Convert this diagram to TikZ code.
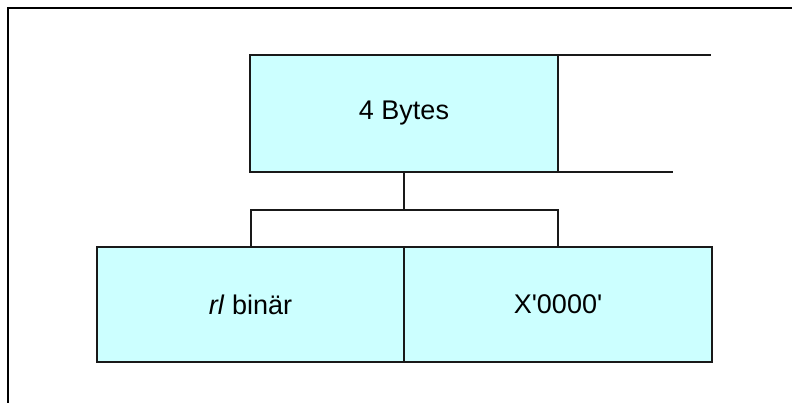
\documentclass[tikz,border=0pt]{standalone}
\usepackage{fontspec}
\setmainfont{Liberation Sans}
\usetikzlibrary{positioning, calc}
\definecolor{fieldfill}{HTML}{CCFFFF}
\tikzset{%
	field/.style={draw=black!90, line width=2pt, rectangle, fill=fieldfill, inner sep=0mm, outer sep=0pt,%
		minimum width=308pt, minimum height=117pt, font=\fontsize{27}{31}\selectfont},
	low/.style={minimum height=115pt},
	connector/.style={line width=2pt, black!90},
	frame/.style={line width=2.5pt, black}
}
\begin{document}
\begin{tikzpicture}[x=1pt, y=-1pt]
	\useasboundingbox (0,0) rectangle (792,403);
	%frame
	\coordinate (fbl) at (8,403);
	\coordinate (ftl) at (8,8);
	\coordinate (ftr) at (792,8);
	\draw[frame] (fbl) -- (ftl) -- (ftr);

	%word
	\node[field] (word) at (404,113.5) {4 Bytes};
	\coordinate (topend) at (711,55);
	\coordinate (botend) at (673,172);
	\draw[connector] (word.north east) -- (topend);
	\draw[connector] (word.south east) -- (botend);

	%fields
	\node[field, low, minimum width=307pt] (len) at (250.5,304.5) {\textit{rl} binär};
	\node[field, low, right=0pt of len] (zero) {X\textquotesingle 0000\textquotesingle};

	%connection
	\coordinate (split) at (404,210);
	\draw[connector] (word.south) -- (split);
	\draw[connector] (split) -| (len.north);
	\draw[connector] (split) -| (zero.north);
\end{tikzpicture}
\end{document}
